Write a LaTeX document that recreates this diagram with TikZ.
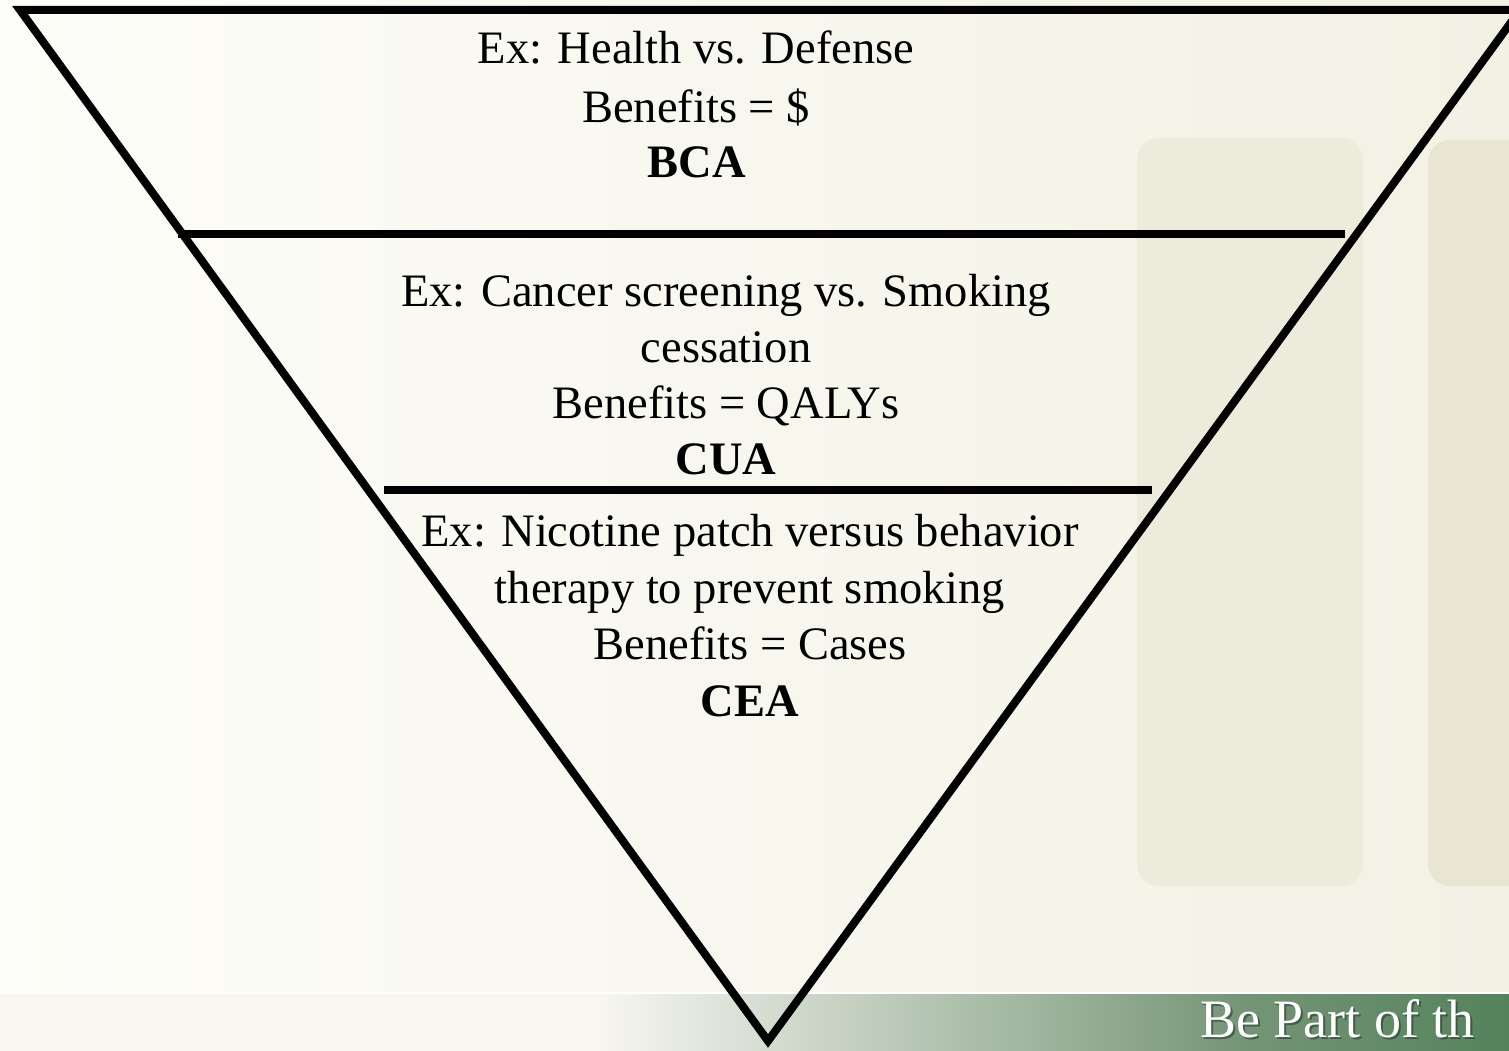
\documentclass[tikz,border=0pt]{standalone}
\usepackage{fontspec}
\setmainfont{Liberation Serif}
\usetikzlibrary{positioning}

\definecolor{paperL}{RGB}{253,253,249}
\definecolor{paperR}{RGB}{243,241,228}
\definecolor{pillarA}{RGB}{237,235,219}
\definecolor{pillarB}{RGB}{232,230,211}
\definecolor{bandW}{RGB}{247,246,240}
\definecolor{bandM}{RGB}{116,148,118}
\definecolor{bandG}{RGB}{84,130,91}
\definecolor{tagshade}{RGB}{40,60,45}

\begin{document}
\begin{tikzpicture}[x=1pt,y=-1pt,line cap=butt,line join=miter,
  bar/.style={line width=8pt},
  lbl/.style={anchor=base,inner sep=0pt,font=\fontsize{46.5}{56}\selectfont},
  tagtext/.style={anchor=base west,inner sep=0pt,text depth=0pt,font=\fontsize{54}{60}\selectfont}]
\useasboundingbox (0,0) rectangle (1509,1051);
\clip (0,0) rectangle (1509,1051);
% backdrop and pillars
\shade [left color=paperL,right color=paperR] (0,0) rectangle (1509,993);
\fill [pillarA,rounded corners=22pt] (1137,138) rectangle (1363,886);
\fill [pillarB,rounded corners=22pt] (1428,140) rectangle (1560,886);
% footer band
\fill [bandW] (0,993) rectangle (600,1051);
\shade [left color=bandW,right color=bandM] (600,993) rectangle (1250,1051);
\shade [left color=bandM,right color=bandG] (1250,993) rectangle (1509,1051);
\draw [white,line width=1.5pt] (0,993) -- (1509,993);
\node [tagtext,tagshade,opacity=0.6] (tagshadow) at (1202,1039) {Be Part of th};
\node [tagtext,white] (tag) at (1200,1037) {Be Part of th};
% the funnel
\coordinate (tl) at (20,10);
\coordinate (tr) at (1520,10);
\coordinate (tip) at (768,1041);
\coordinate (b1w) at (178,234);
\coordinate (b1e) at (1345,234);
\coordinate (b2w) at (384,490);
\coordinate (b2e) at (1152,490);
\draw [bar] (tl) -- (tr) -- (tip) -- cycle;
\draw [bar] (b1w) -- (b1e);
\draw [bar] (b2w) -- (b2e);
% top tier
\node [lbl] (bcaex) at (696,64) {Ex: Health vs. Defense};
\node [lbl] (bcaben) at (696,123) {Benefits = \$};
\node [lbl] (bca) at (697,178) {\textbf{BCA}};
% middle tier
\node [lbl] (cuaex) at (726,306) {Ex: Cancer screening vs. Smoking};
\node [lbl] (cuaex2) at (726,362) {cessation};
\node [lbl] (cuaben) at (726,418) {Benefits = QALYs};
\node [lbl] (cua) at (726,474) {\textbf{CUA}};
% bottom tier
\node [lbl] (ceaex) at (750,546) {Ex: Nicotine patch versus behavior};
\node [lbl] (ceaex2) at (750,603) {therapy to prevent smoking};
\node [lbl] (ceaben) at (750,659) {Benefits = Cases};
\node [lbl] (cea) at (750,716) {\textbf{CEA}};
\end{tikzpicture}
\end{document}
